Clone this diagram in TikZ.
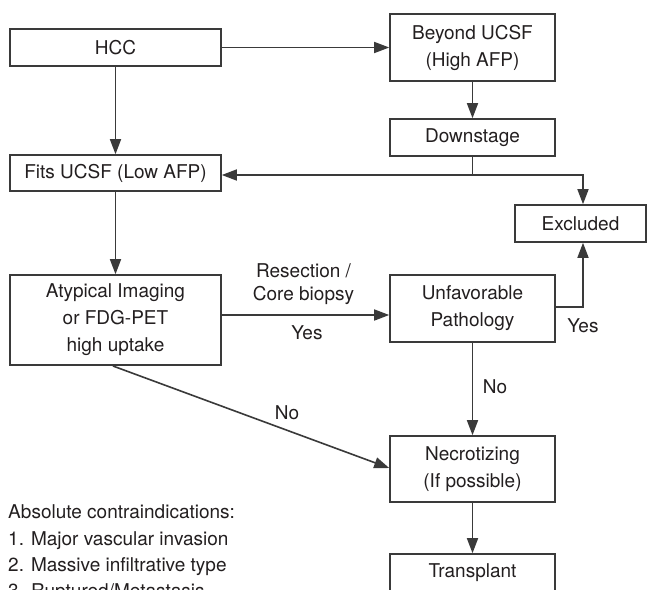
\documentclass[tikz,border=0pt]{standalone}
\usepackage{fontspec}
\setmainfont{TeX Gyre Heros}
\usetikzlibrary{arrows.meta}
\definecolor{ink}{HTML}{231F20}
\definecolor{ln}{HTML}{3A3A3A}
\tikzset{
  box/.style={draw=ln, line width=1.6pt, rectangle, align=center, inner sep=0pt, text=ink,
    font=\fontsize{19}{27}\selectfont},
  conn/.style={draw=ln, line width=1.6pt, -{Triangle[length=15pt,width=11pt]}},
  plain/.style={draw=ln, line width=1.6pt},
  lbl/.style={text=ink, font=\fontsize{19}{24}\selectfont, inner sep=0pt, align=center},
  ctext/.style={text=ink, font=\fontsize{19}{24}\selectfont, inner sep=0pt, anchor=base west}
}
\begin{document}
\begin{tikzpicture}[x=1pt,y=-1pt]
\useasboundingbox (0,0) rectangle (647,589);
\clip (0,0) rectangle (647,589);
\fill[white] (0,0) rectangle (647,589);
% boxes
\node[box, minimum width=211pt, minimum height=37pt] (hcc) at (115.5,47.5) {HCC};
\node[box, minimum width=211pt, minimum height=36pt] (fits) at (115.5,173) {Fits UCSF (Low AFP)};
\node[box, minimum width=211pt, minimum height=90pt] (aty) at (115.5,320) {Atypical Imaging\\or FDG-PET\\high uptake};
\node[box, minimum width=165pt, minimum height=67pt] (bey) at (472.5,47.5) {Beyond UCSF\\(High AFP)};
\node[box, minimum width=165pt, minimum height=37pt] (down) at (472.5,137.5) {Downstage};
\node[box, minimum width=131pt, minimum height=37pt] (exc) at (580.5,223.5) {Excluded};
\node[box, minimum width=165pt, minimum height=67pt] (unf) at (472.5,308.5) {Unfavorable\\Pathology};
\node[box, minimum width=165pt, minimum height=66pt] (nec) at (472.5,469) {Necrotizing\\(If possible)};
\node[box, minimum width=165pt, minimum height=37pt] (tr) at (472.5,572.5) {Transplant};
% junction coordinates
\coordinate (j1) at (472.5,175);
\coordinate (j2) at (583,175);
\coordinate (j3) at (583,307);
% connectors
\draw[conn] (hcc.east) -- (bey.west);
\draw[conn] (hcc.south) -- (fits.north);
\draw[conn] (bey.south) -- (down.north);
\draw[plain] (down.south) -- (j1);
\draw[conn] (j1) -- (fits.east |- j1);
\draw[conn] (j1) -- (j2) -- (exc.north -| j2);
\draw[conn] (fits.south) -- (aty.north);
\draw[conn] (aty.east |- 0,315) -- (unf.west |- 0,315);
\draw[conn] (unf.east |- j3) -- (j3) -- (exc.south -| j3);
\draw[conn] (unf.south) -- (nec.north);
\draw[conn] (113,366) -- (nec.west |- 0,468);
\draw[conn] (nec.south) -- (tr.north);
% labels
\node[lbl] (l1) at (303.5,271) {Resection /};
\node[lbl] (l2) at (303.5,295) {Core biopsy};
\node[lbl] (l3) at (307,333) {Yes};
\node[lbl] (l4) at (287,413) {No};
\node[lbl] (l5) at (495,387) {No};
\node[lbl] (l6) at (583,326) {Yes};
% contraindications
\node[ctext] (c0) at (8,518) {Absolute contraindications:};
\node[ctext] (c1) at (8,545) {1. Major vascular invasion};
\node[ctext] (c2) at (8,571) {2. Massive infiltrative type};
\node[ctext] (c3) at (8,597) {3. Ruptured/Metastasis};
\end{tikzpicture}
\end{document}
